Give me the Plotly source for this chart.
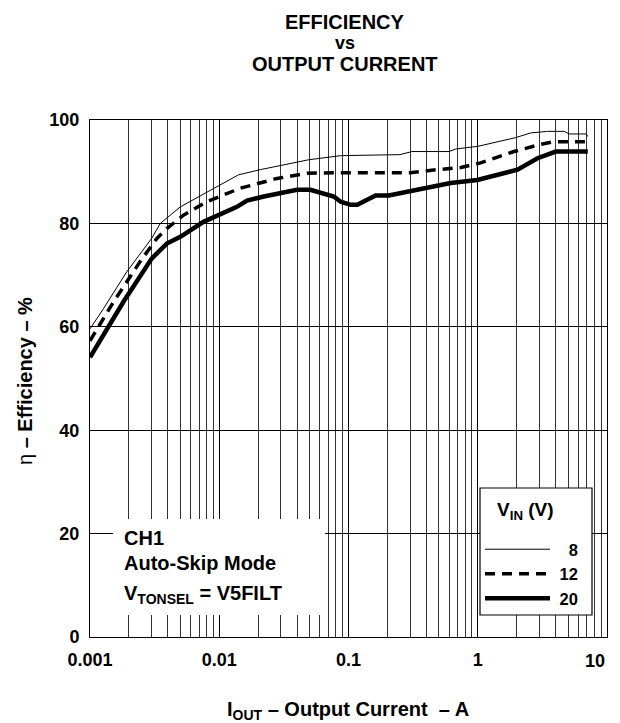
import plotly.graph_objects as go

# ---- data ----
iout_8v = [0.001, 0.00127, 0.00192, 0.0030, 0.0035, 0.005, 0.0096, 0.0141, 0.0208, 0.049,
           0.087, 0.25, 0.31, 0.6, 0.675, 1.0, 1.97, 2.57, 3.47, 4.67, 5.1, 6.9, 7.1]
eff_8v = [59.6, 63.5, 70.6, 77.1, 80.0, 83.2, 87.1, 89.4, 90.4, 92.3,
          93.1, 93.3, 93.9, 93.9, 94.4, 94.9, 96.6, 97.5, 97.8, 97.8, 97.3, 97.3, 96.8]

iout_12v = [0.001, 0.00152, 0.00244, 0.00329, 0.00393, 0.00529, 0.00802, 0.01455, 0.028, 0.048,
            0.087, 0.30, 0.49, 0.74, 1.05, 1.91, 3.08, 3.9, 7.1]
eff_12v = [57.3, 64.8, 72.6, 77.1, 79.0, 81.6, 84.2, 86.8, 88.7, 89.7,
           89.8, 89.8, 90.4, 90.8, 91.7, 93.9, 95.3, 95.8, 95.8]

iout_20v = [0.001, 0.00181, 0.0030, 0.00393, 0.0050, 0.00755, 0.0137, 0.0164, 0.0221, 0.040,
            0.0507, 0.077, 0.087, 0.104, 0.117, 0.162, 0.205, 0.617, 0.993, 2.03, 2.9, 4.02, 7.1]
eff_20v = [54.1, 64.8, 73.2, 76.1, 77.4, 80.3, 83.2, 84.4, 85.2, 86.5,
           86.5, 85.2, 84.2, 83.6, 83.6, 85.4, 85.4, 87.8, 88.4, 90.4, 92.6, 93.9, 93.9]

series_names = ["\u00a0\u00a0\u00a08", "\u00a012", "\u00a020"]
x_tickvals = [0.001, 0.01, 0.1, 1]
x_ticktext = ["0.001", "0.01", "0.1", "1"]
x_last_tickval = [10]
x_last_ticktext = ["10"]
y_tickvals = [0, 20, 40, 60, 80, 100]

FONT = "Liberation Sans, Arial, sans-serif"

fig = go.Figure()
fig.add_trace(go.Scatter(x=iout_8v, y=eff_8v, mode="lines", name=series_names[0],
                         line=dict(color="black", width=1)))
fig.add_trace(go.Scatter(x=iout_12v, y=eff_12v, mode="lines", name=series_names[1],
                         line=dict(color="black", width=3.5, dash="10px,7px")))
fig.add_trace(go.Scatter(x=iout_20v, y=eff_20v, mode="lines", name=series_names[2],
                         line=dict(color="black", width=4.5)))
# empty helper trace so the overlay axis carrying the last tick label is drawn
fig.add_trace(go.Scatter(x=x_last_tickval, y=[None], xaxis="x2", mode="lines",
                         showlegend=False, hoverinfo="skip"))

OFF = 8  # page body margin
W, H = 620 - OFF, 723 - OFF
# plot area in page coordinates: x 90..607, y 120..637
L = 90 - OFF
T = 120 - OFF
R = W - (607 - OFF)
B = H - (637 - OFF)
pw, ph = W - L - R, H - T - B


def px(xpage):
    return (xpage - OFF - L) / pw


def py(ypage):
    return (H - B - (ypage - OFF)) / ph


tick_font = dict(family=FONT, size=18, weight="bold")

fig.update_layout(
    width=W, height=H,
    margin=dict(l=L, r=R, t=T, b=B),
    paper_bgcolor="white", plot_bgcolor="white",
    font=dict(family=FONT, color="black"),
    showlegend=True,
    legend=dict(
        x=px(480), y=py(532), xanchor="left", yanchor="top",
        bgcolor="rgba(0,0,0,0)", borderwidth=0,
        font=dict(family=FONT, size=16.5, weight="bold"),
        itemwidth=65, traceorder="normal", tracegroupgap=0,
    ),
    xaxis=dict(
        type="log", range=[-3, 1],
        tickvals=x_tickvals, ticktext=x_ticktext,
        tickfont=tick_font,
        showgrid=True, gridcolor="black", gridwidth=1,
        minor=dict(dtick="D1", showgrid=True, gridcolor="#333", gridwidth=1, ticks=""),
        showline=True, linecolor="black", linewidth=1, mirror=True,
        ticks="", zeroline=False, ticklabelstandoff=6, automargin=False,
        ticklabeloverflow="allow",
    ),
    xaxis2=dict(
        type="log", range=[-3, 1], overlaying="x", anchor="y", side="bottom",
        tickvals=x_last_tickval, ticktext=x_last_ticktext,
        tickfont=tick_font, ticklabelshift=-12,
        showgrid=False, showline=False, ticks="", zeroline=False,
        ticklabelstandoff=11, automargin=False, ticklabeloverflow="allow",
    ),
    yaxis=dict(
        range=[0, 100], tickvals=y_tickvals,
        tickfont=tick_font,
        showgrid=True, gridcolor="black", gridwidth=1,
        showline=True, linecolor="black", linewidth=1, mirror=True,
        ticks="", zeroline=False, ticklabelstandoff=6, automargin=False,
        ticklabeloverflow="allow",
    ),
)

# white box behind the operating-condition note
fig.add_shape(type="rect", xref="paper", yref="paper",
              x0=px(113), x1=px(325), y0=py(615), y1=py(519),
              fillcolor="white", line=dict(width=0), layer="above")
# legend frame
fig.add_shape(type="rect", xref="paper", yref="paper",
              x0=px(480), x1=px(592), y0=py(615), y1=py(488),
              fillcolor="white", line=dict(width=1.2, color="black"), layer="above")
fig.add_annotation(text="V<sub>IN</sub> (V)", xref="paper", yref="paper", x=px(525), y=py(511),
                   xanchor="center", yanchor="middle", showarrow=False,
                   font=dict(family=FONT, size=19, weight="bold", color="black"))

note_font = dict(family=FONT, size=20, weight="bold", color="black")
for txt, yy in [("CH1", 538), ("Auto-Skip Mode", 563),
                ("V<sub>TONSEL</sub> = V5FILT", 594)]:
    fig.add_annotation(text=txt, xref="paper", yref="paper", x=px(122), y=py(yy),
                       xanchor="left", yanchor="middle", showarrow=False, font=note_font)

# titles
title_font = dict(family=FONT, size=20, weight="bold", color="black")
fig.add_annotation(text="EFFICIENCY", xref="paper", yref="paper", x=px(345), y=py(22),
                   xanchor="center", yanchor="middle", showarrow=False, font=title_font)
fig.add_annotation(text="vs", xref="paper", yref="paper", x=px(345), y=py(43),
                   xanchor="center", yanchor="middle", showarrow=False,
                   font=dict(family=FONT, size=18, weight="bold", color="black"))
fig.add_annotation(text="OUTPUT CURRENT", xref="paper", yref="paper", x=px(345), y=py(64),
                   xanchor="center", yanchor="middle", showarrow=False, font=title_font)

# axis titles
fig.add_annotation(text="I<sub>OUT</sub> – Output Current  – A", xref="paper", yref="paper",
                   x=px(348), y=py(710), xanchor="center", yanchor="middle", showarrow=False,
                   font=dict(family=FONT, size=20, weight="bold", color="black"))
fig.add_annotation(text="η <b>– Efficiency – %</b>", xref="paper", yref="paper",
                   x=px(25), y=py(381), xanchor="center", yanchor="middle", showarrow=False,
                   textangle=-90, font=dict(family=FONT, size=20, color="black"))

fig.write_html("out.html")
